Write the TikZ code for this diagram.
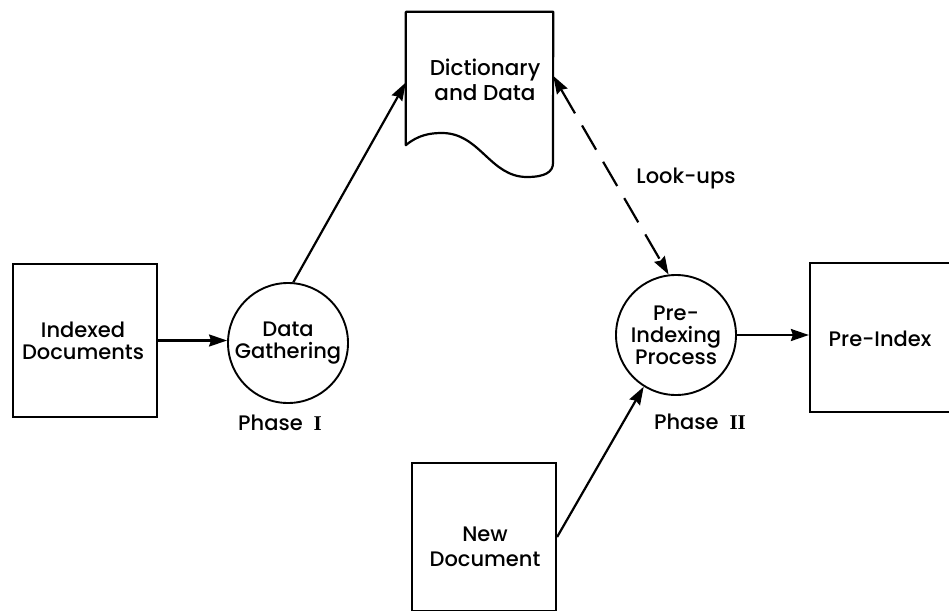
\documentclass[tikz,border=0pt]{standalone}
\usepackage{fontspec}
\setmainfont{Poppins}[UprightFont={* Medium}]
\newfontfamily\numfont{Liberation Serif}
\usetikzlibrary{arrows.meta,calc}
\tikzset{
  every node/.style={font=\fontsize{21}{22}\selectfont, align=center, inner sep=0pt},
  boxnode/.style={draw, line width=2.2pt, rectangle},
  procnode/.style={draw, line width=1.9pt, circle, minimum size=120pt},
  flow/.style={line width=2.2pt, -{Stealth[length=18pt,width=12pt,inset=2pt]}},
  lookflow/.style={line width=2.2pt, dash pattern=on 28pt off 14pt,
     {Stealth[length=18pt,width=12pt,inset=2pt]}-{Stealth[length=18pt,width=12pt,inset=2pt]}},
  phaselabel/.style={font=\fontsize{21}{22}\selectfont}
}
\begin{document}
\begin{tikzpicture}[x=1pt,y=-1pt]
\useasboundingbox (0,0) rectangle (949,610);
\clip (0,0) rectangle (949,610);
% nodes
\node[boxnode, minimum width=144pt, minimum height=153pt] (ind) at (85,340.5) {};
\node at (83,341) (indt) {Indexed\\Documents};
\node[procnode] (dg) at (288,343) {Data\\Gathering};
\node[phaselabel] (ph1) at (280,423) {Phase\ \ {\numfont\bfseries I}};
\node[minimum width=147pt, minimum height=133pt] (dict) at (479.5,78.5) {};
\node[font=\fontsize{21.5}{25}\selectfont] (dictt) at (485,80) {Dictionary\\and Data};
\draw[line width=2.2pt, line join=round]
  (dict.south west) .. controls (418,135) and (430,133) .. (442,133)
  .. controls (480,133) and (490,177) .. (527,177)
  .. controls (545,177) and (553,172) .. (553,163)
  -- (dict.north east) -- (dict.north west) -- cycle;
\node[procnode] (pi) at (676,335) {Pre-\\Indexing\\Process};
\node[phaselabel] (ph2) at (700,422) {Phase\ \ {\numfont\bfseries II}};
\node[boxnode, minimum width=150pt, minimum height=149pt] (pidx) at (885,337.5) {};
\node (pidxt) at (880,339) {Pre-Index};
\node[boxnode, minimum width=144pt, minimum height=148pt] (nd) at (484,537) {};
\node[font=\fontsize{21}{25}\selectfont] (ndt) at (485,547) {New\\Document};
\node (look) at (686,178) {Look-ups};
% connectors
\draw[flow] (ind.east) -- (ind.east -| dg.west);
\draw[flow] (dg.85) -- ($(dict.north west)!0.53!(dict.south west)$);
\draw[lookflow] ($(dict.north east)!0.48!(dict.south east)$) -- (pi.97);
\draw[flow] (pi.east) -- (pi.east -| pidx.west);
\draw[flow] (nd.east) -- (pi.238);
\end{tikzpicture}
\end{document}
